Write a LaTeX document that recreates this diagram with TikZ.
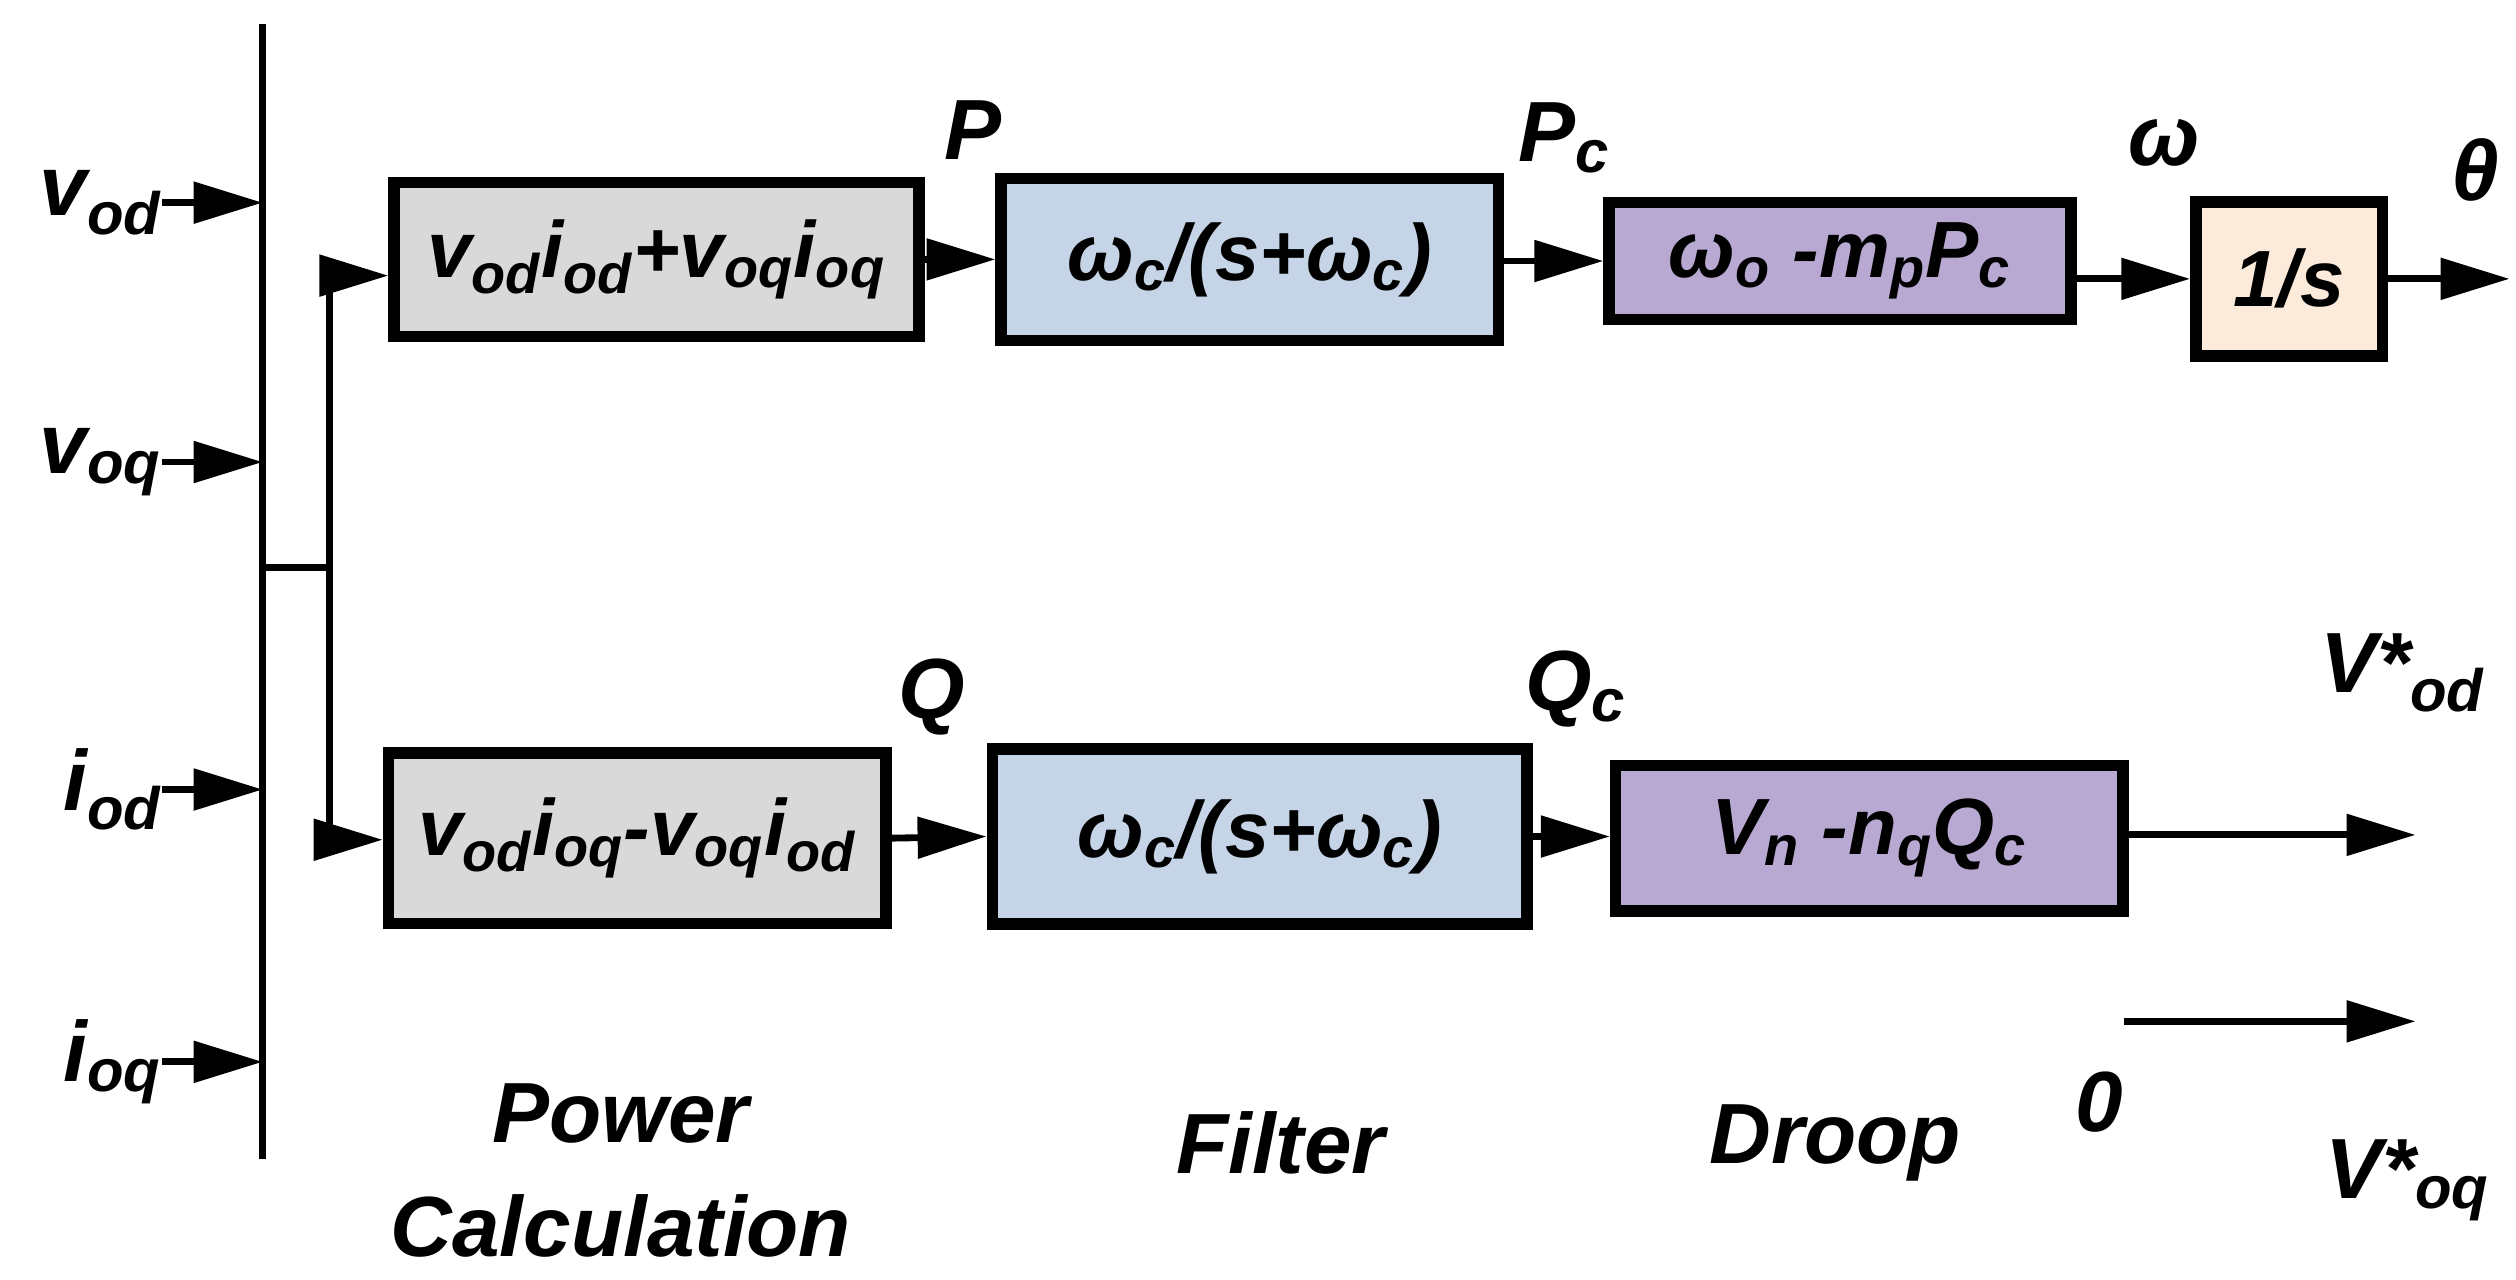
\documentclass[tikz,border=0pt]{standalone}
\usepackage{fontspec}
\setmainfont{Liberation Sans}
\usetikzlibrary{arrows.meta}
\newcommand{\sbs}[1]{\textsubscript{#1}}
\definecolor{gbox}{HTML}{D9D9D9}
\definecolor{bbox}{HTML}{C5D4E6}
\definecolor{pbox}{HTML}{B8A9D2}
\definecolor{obox}{HTML}{FCEADB}
\begin{document}
\begin{tikzpicture}[x=0.02cm,y=-0.02cm,
  txt/.style={font=\fontsize{30}{34}\selectfont\bfseries\itshape,inner sep=0pt},
  blk/.style={draw,line width=4pt,inner sep=0pt,font=\fontsize{28}{32}\selectfont\bfseries\itshape},
  wire/.style={line width=2.4pt},
  arr/.style={wire,-{Triangle[length=0.85cm,width=0.5cm]}}]
\useasboundingbox (0,0) rectangle (1552,789);
% bus
\draw[wire] (162,15) -- (162,715);
\coordinate (b1) at (162,125);\coordinate (b2) at (162,285);
\coordinate (b3) at (162,487);\coordinate (b4) at (162,655);
\node[txt,anchor=east] (vod) at (100,125) {v\sbs{od}};
\node[txt,anchor=east] (voq) at (100,285) {v\sbs{oq}};
\node[txt,anchor=east] (iod) at (100,487) {i\sbs{od}};
\node[txt,anchor=east] (ioq) at (100,655) {i\sbs{oq}};
\draw[arr] (vod.east) -- (b1);
\draw[arr] (voq.east) -- (b2);
\draw[arr] (iod.east) -- (b3);
\draw[arr] (ioq.east) -- (b4);
% boxes
\node[blk,fill=gbox,minimum width=324\pgflinewidth*0+6.48cm,minimum height=1.9cm] (pc1) at (405,160) {v\sbs{od}i\sbs{od}+v\sbs{oq}i\sbs{oq}};
\node[blk,fill=bbox,minimum width=6.14cm,minimum height=2cm] (f1) at (771,160) {ω\sbs{c}/(s+ω\sbs{c})};
\node[blk,fill=pbox,minimum width=5.7cm,minimum height=1.44cm] (d1) at (1135,161) {ω\sbs{o} -m\sbs{p}P\sbs{c}};
\node[blk,fill=obox,minimum width=2.3cm,minimum height=1.9cm] (int) at (1412,172) {1/s};
\node[blk,fill=gbox,minimum width=6.14cm,minimum height=2.1cm] (pc2) at (393,517) {v\sbs{od}i\sbs{oq}-v\sbs{oq}i\sbs{od}};
\node[blk,fill=bbox,minimum width=6.6cm,minimum height=2.16cm] (f2) at (777,516) {ω\sbs{c}/(s+ω\sbs{c})};
\node[blk,fill=pbox,minimum width=6.26cm,minimum height=1.8cm] (d2) at (1153,517) {V\sbs{n} -n\sbs{q}Q\sbs{c}};
% distribution
\coordinate (j0) at (162,350);\coordinate (j1) at (203,350);
\coordinate (j2) at (203,170);\coordinate (j3) at (203,518);
\draw[wire] (j0) -- (j1) (j2) -- (j3);
\draw[arr] (j2) -- (pc1.west|-j2);
\draw[arr] (j3) -- (pc2.west|-j3);
% chain
\draw[arr] (pc1.east) -- (f1.west);
\draw[arr] (f1.east|-d1) -- (d1.west);
\draw[arr] (d1.east|-int) -- (int.west);
\coordinate (th) at (1548,172);
\draw[arr] (int.east) -- (th);
\draw[arr] (pc2.east) -- (f2.west);
\draw[arr] (f2.east) -- (d2.west|-f2.east);
\coordinate (vo) at (1490,515);
\draw[arr] (d2.east|-vo) -- (vo);
\coordinate (z0) at (1310,630);\coordinate (z1) at (1490,630);
\draw[arr] (z0) -- (z1);
% labels
\node[txt] (lP) at (600,80) {P};
\node[txt] (lPc) at (965,85) {P\sbs{c}};
\node[txt] (lw) at (1335,88) {ω};
\node[txt] (lth) at (1527,105) {θ};
\node[txt] (lQ) at (575,430) {Q};
\node[txt] (lQc) at (972,425) {Q\sbs{c}};
\node[txt] (lvod) at (1482,415) {V*\sbs{od}};
\node[txt] (l0) at (1295,680) {0};
\node[txt] (lvoq) at (1485,728) {V*\sbs{oq}};
\node[txt,align=center,font=\fontsize{30}{40}\selectfont\bfseries\itshape] (lpc) at (383,722) {Power\\Calculation};
\node[txt] (lf) at (790,705) {Filter};
\node[txt] (ld) at (1132,705) {Droop};
\end{tikzpicture}
\end{document}
